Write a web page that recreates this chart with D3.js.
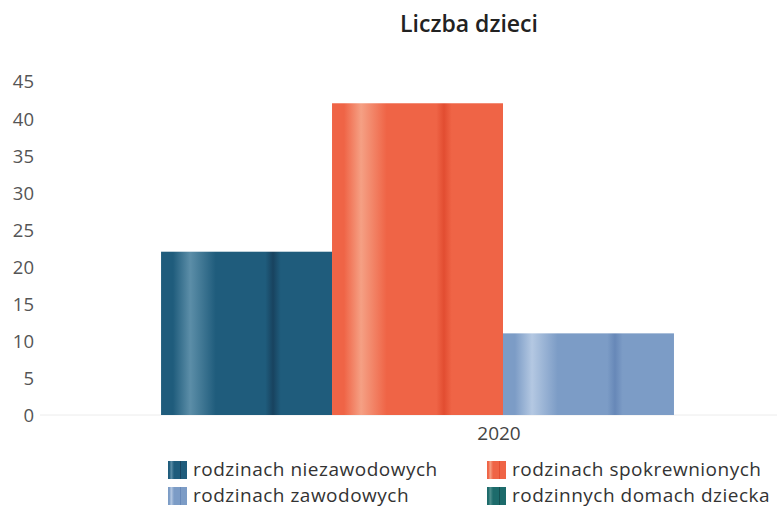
<!DOCTYPE html>
<html>
<head>
<meta charset="utf-8">
<script src="https://cdn.jsdelivr.net/npm/d3@7"></script>
<style>
    body { margin: 0; background: #fff; }
    #chart { width: 777px; height: 507px; overflow: hidden; }
    text { font-family: 'Open Sans', 'Noto Sans', sans-serif; }
</style>
</head>
<body>
<div id="chart"></div>
<script>
// Data
const years = ['2020'];
const seriesNames = [
    'rodzinach niezawodowych',
    'rodzinach spokrewnionych',
    'rodzinach zawodowych',
    'rodzinnych domach dziecka'
];
const values2020 = [22, 42, 11, 0];
const yTicks = [0, 5, 10, 15, 20, 25, 30, 35, 40, 45];

// Base colour, highlight and shadow for each series
const baseColors = ['#1f5c7c', '#ef6446', '#7c9cc6', '#1d6b6b'];
const lightColors = ['#5c8ea8', '#f5a084', '#b4c8e2', '#4f8f8d'];
const darkColors = ['#18435f', '#e24d31', '#6788b8', '#134f50'];

const totalWidth = 777;
const totalHeight = 507;

// Plot area, the group extends a little past the right edge like in the scan
const plotLeft = 40;
const plotRight = 966;
const plotTop = 81;
const plotBottom = 415;

const svg = d3
    .select('#chart')
    .append('svg')
    .attr('width', totalWidth)
    .attr('height', totalHeight);

const defs = svg.append('defs');

// Horizontal gradients for the soft shading of the bars
seriesNames.forEach((name, i) => {
    const grad = defs
        .append('linearGradient')
        .attr('id', 'grad' + i)
        .attr('x1', '0%')
        .attr('x2', '100%')
        .attr('y1', '0%')
        .attr('y2', '0%');
    const stops = [
        [0, baseColors[i]],
        [0.07, baseColors[i]],
        [0.17, lightColors[i]],
        [0.32, baseColors[i]],
        [0.61, baseColors[i]],
        [0.655, darkColors[i]],
        [0.7, baseColors[i]],
        [1, baseColors[i]]
    ];
    stops.forEach((s) => {
        grad.append('stop').attr('offset', s[0]).attr('stop-color', s[1]);
    });
});

const y = d3.scaleLinear().domain([0, 45]).range([plotBottom, plotTop]);

const x0 = d3
    .scaleBand()
    .domain(years)
    .range([plotLeft, plotRight])
    .paddingInner(0)
    .paddingOuter(0.177);

const x1 = d3
    .scaleBand()
    .domain(seriesNames)
    .range([0, x0.bandwidth()]);

// Title
svg.append('text')
    .attr('x', 469)
    .attr('y', 32)
    .attr('text-anchor', 'middle')
    .attr('fill', '#222')
    .style('font-size', '23px')
    .style('font-weight', 600)
    .text('Liczba dzieci');

// Faint baseline
svg.append('line')
    .attr('x1', plotLeft)
    .attr('x2', totalWidth)
    .attr('y1', y(0))
    .attr('y2', y(0))
    .attr('stroke', '#ececec')
    .attr('stroke-width', 1);

// Y axis, labels only
const yAxis = d3.axisLeft(y).tickValues(yTicks).tickSize(0).tickPadding(0);
const yAxisGroup = svg
    .append('g')
    .attr('transform', 'translate(34, 1)')
    .call(yAxis);
yAxisGroup.select('.domain').remove();
yAxisGroup
    .selectAll('text')
    .attr('fill', '#555')
    .style('font-size', '18.5px')
    .style('font-family', "'Open Sans', sans-serif");

// Bars
const bars = seriesNames.map((name, i) => ({ name: name, value: values2020[i], idx: i }));
const group = svg
    .append('g')
    .attr('transform', `translate(${x0('2020')}, 0)`);

group
    .selectAll('rect')
    .data(bars)
    .enter()
    .append('rect')
    .attr('x', (d) => x1(d.name))
    .attr('y', (d) => y(d.value))
    .attr('width', x1.bandwidth())
    .attr('height', (d) => y(0) - y(d.value))
    .attr('fill', (d) => `url(#grad${d.idx})`);

// X axis label
const xAxis = d3.axisBottom(x0).tickSize(0).tickPadding(0);
const xAxisGroup = svg
    .append('g')
    .attr('transform', `translate(-4, ${y(0) + 11})`)
    .call(xAxis);
xAxisGroup.select('.domain').remove();
xAxisGroup
    .selectAll('text')
    .attr('fill', '#444')
    .style('font-size', '19px')
    .style('font-family', "'Open Sans', sans-serif");

// Legend, two columns
const legendX = [168, 487];
const legendY = [461, 487];
const legend = svg
    .selectAll('.legend')
    .data(bars)
    .enter()
    .append('g')
    .attr('class', 'legend')
    .attr('transform', (d, i) => {
        const col = [0, 1, 0, 1][i];
        const row = [0, 0, 1, 1][i];
        return `translate(${legendX[col]}, ${legendY[row]})`;
    });

legend
    .append('rect')
    .attr('width', 19)
    .attr('height', 18)
    .attr('fill', (d) => `url(#grad${d.idx})`);

legend
    .append('text')
    .attr('x', 25)
    .attr('y', 15)
    .attr('fill', '#333')
    .style('font-size', '19px')
    .style('letter-spacing', '0.5px')
    .text((d) => d.name);
</script>
</body>
</html>
